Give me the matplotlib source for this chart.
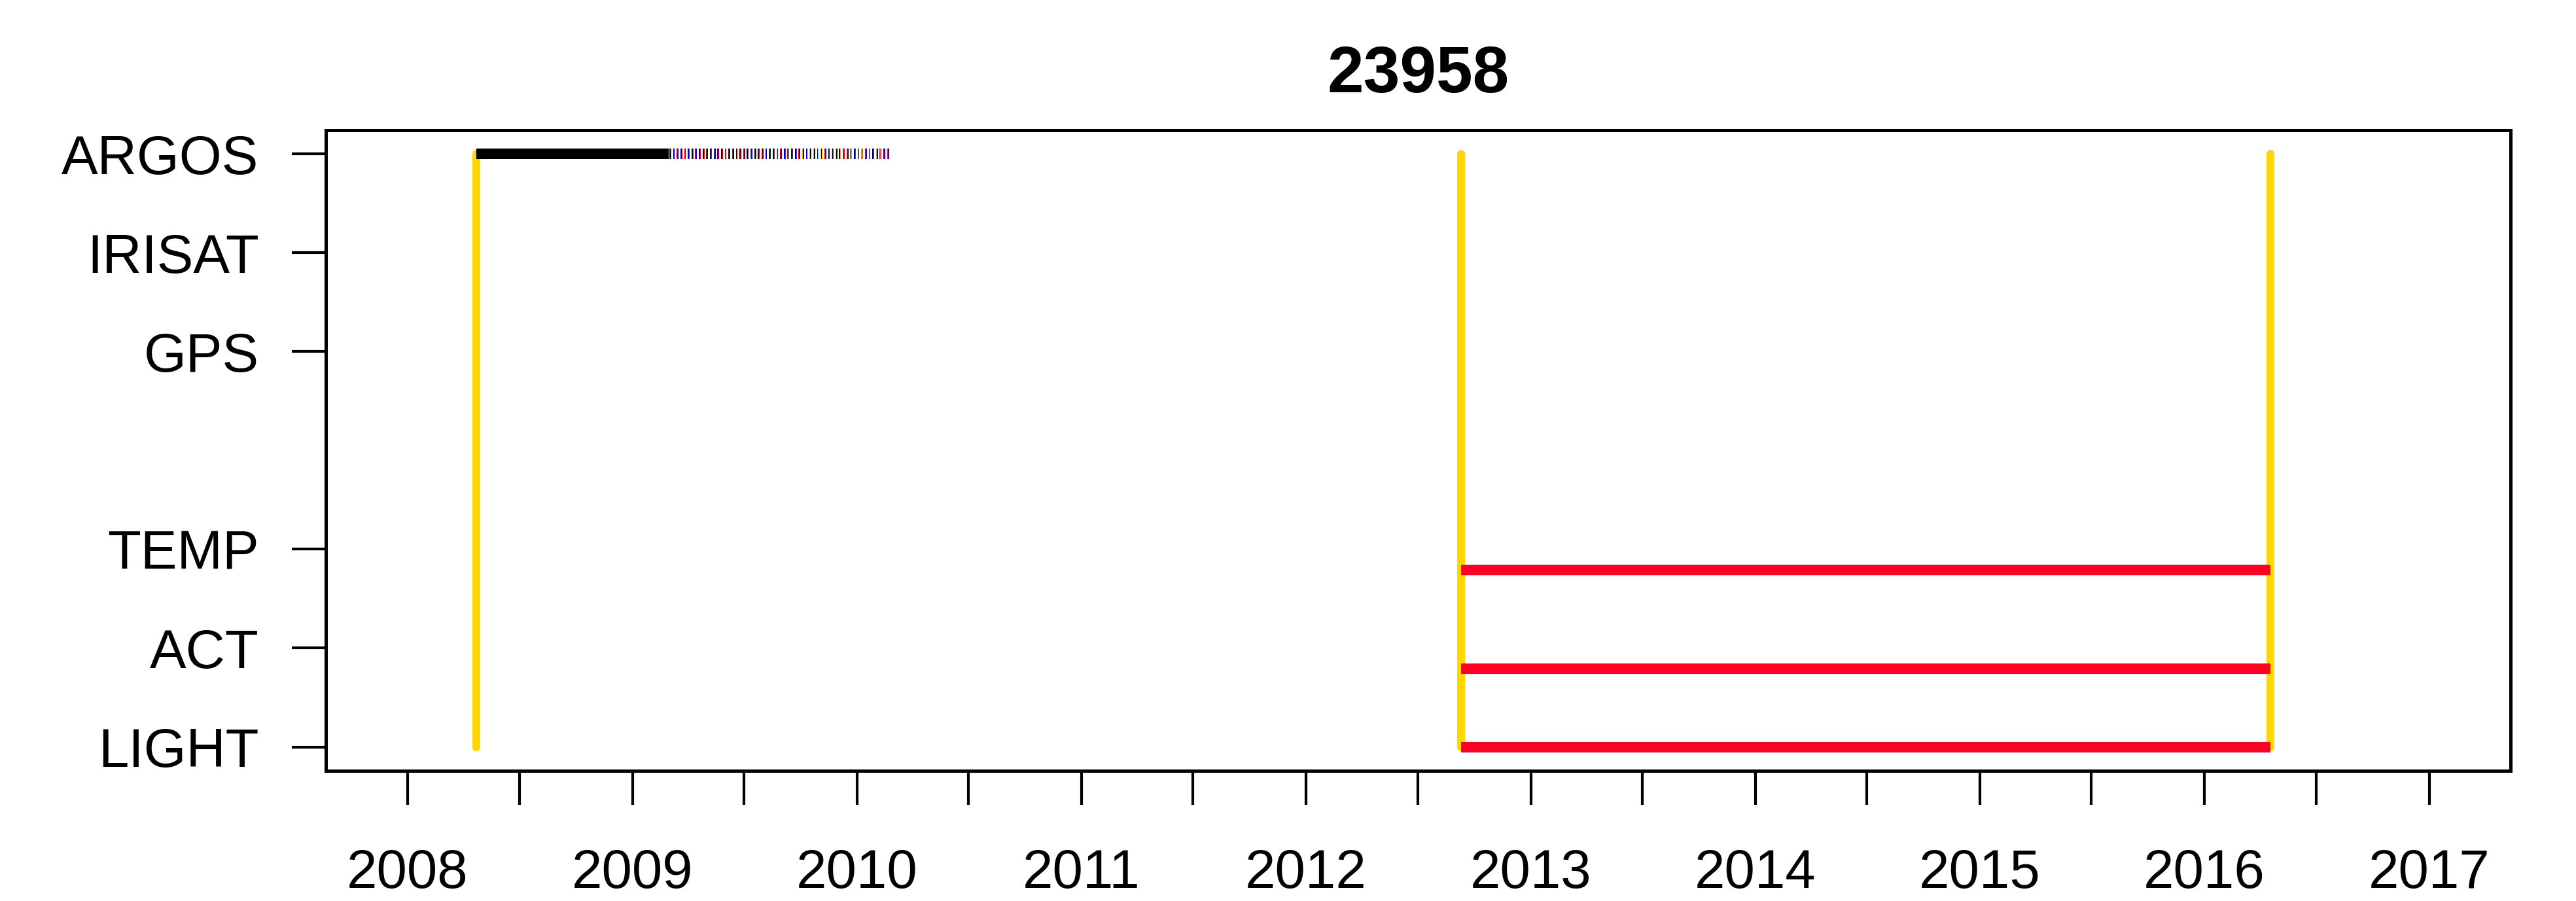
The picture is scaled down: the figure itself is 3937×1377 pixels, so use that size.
from datetime import date, timedelta

import matplotlib
matplotlib.use("Agg")
import matplotlib.pyplot as plt

plt.rcParams["font.family"] = ["Liberation Sans", "DejaVu Sans"]

# tag id and track names (y position of each track)
tag_id = "23958"
track_names = ["LIGHT", "ACT", "TEMP", "GPS", "IRISAT", "ARGOS"]
track_pos = [1, 2, 3, 5, 6, 7]

# deployment markers (yellow)
deploy_dates = ["2008-04-22", "2012-09-09", "2016-04-17"]

# archival sensors (red), drawn slightly below their tick except LIGHT
sensor_y = [1.0, 1.79, 2.79]
sensor_start = "2012-09-09"
sensor_end = "2016-04-17"

# ARGOS: continuous block, then daily fixes coloured by location class
argos_block = ("2008-04-22", "2009-03-01")
argos_start = "2009-03-01"
argos_offsets = [0, 6, 12, 18, 24, 30, 36, 42, 48, 54, 60, 66, 72, 78, 84,
                 90, 96, 102, 108, 114, 120, 126, 132, 138, 144, 150, 156,
                 162, 168, 174, 180, 186, 192, 198, 204, 210, 216, 222, 228,
                 234, 240, 246, 252, 258, 264, 270, 276, 282, 288, 294, 300,
                 306, 312, 318, 324, 330, 336, 342, 348, 354]
argos_classes = ["bkr", "kbr", "rkb", "bkr", "rbk", "kbr", "bkr", "rkb",
                 "bkr", "kbr", "rkb", "bkr", "rbk", "bkr", "kbr", "rkb",
                 "bkr", "rkb", "bkr", "kbr", "rkb", "bkr", "rbk", "bkr",
                 "kbr", "rkb", "bkr", "rkb", "bkr", "okb", "rkb", "bkr",
                 "rko", "bkr", "kbr", "rkb", "obk", "bkr", "ckr", "okb",
                 "bkc", "tko", "rkb", "ckb", "okr", "tkb", "bko", "ckr",
                 "rbk", "okc", "kbr", "ckb", "tko", "rkb", "cbo", "kbr",
                 "okb", "rck", "bkr", "rkb"]
class_colors = {"k": "black", "r": "#FF0000", "b": "#0000FF",
                "o": "#FFA500", "c": "#5CC8FF", "t": "#D2B48C"}

yellow = "#FFD700"
red = "#FF0022"


def d(s):
    return date.fromisoformat(s)


fig = plt.figure(figsize=(3937 / 300, 1377 / 300), dpi=300)
ax = fig.add_axes([0.1264, 0.1447, 0.8482, 0.7107])

for dd in deploy_dates:
    ax.plot([d(dd), d(dd)], [1, 7], color=yellow, lw=2.9,
            solid_capstyle="round", zorder=2)

for y in sensor_y:
    ax.plot([d(sensor_start), d(sensor_end)], [y, y], color=red, lw=3.84,
            solid_capstyle="butt", zorder=3)

ax.plot([d(argos_block[0]), d(argos_block[1])], [7, 7], color="black",
        lw=3.84, solid_capstyle="butt", zorder=3)

base = d(argos_start)
for off, cls in zip(argos_offsets, argos_classes):
    for i, c in enumerate(cls):
        x0 = base + timedelta(days=off + 1.0 + i * 1.4)
        x1 = x0 + timedelta(days=1.3)
        ax.plot([x0, x1], [7, 7], color=class_colors[c], lw=3.84,
                solid_capstyle="butt", zorder=3)

ax.set_xlim(d("2007-08-21"), d("2017-05-13"))
ax.set_ylim(0.76, 7.24)

years = list(range(2008, 2018))
ax.set_xticks([date(y, 1, 1) for y in years])
ax.set_xticklabels([str(y) for y in years])
ax.set_xticks([date(y, 7, 1) for y in years[:-1]], minor=True)
ax.set_yticks(track_pos)
ax.set_yticklabels(track_names)

ax.tick_params(axis="both", which="both", length=12.5, width=1.0,
               labelsize=20, direction="out")
ax.tick_params(axis="x", which="major", pad=16)
ax.tick_params(axis="y", pad=12)
for sp in ax.spines.values():
    sp.set_linewidth(1.2)

ax.set_title(tag_id, fontsize=24, fontweight="bold", pad=14)

fig.savefig("out.png", dpi=300)
